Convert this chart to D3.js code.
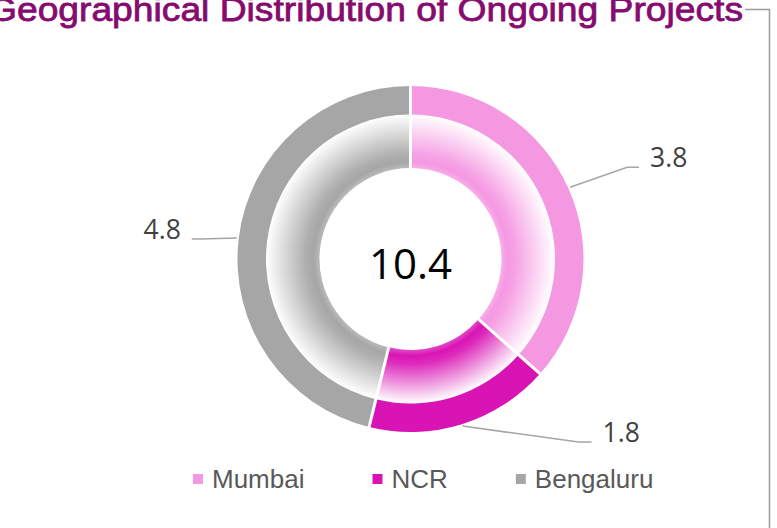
<!DOCTYPE html>
<html>
<head>
<meta charset="utf-8">
<script src="https://cdn.jsdelivr.net/npm/d3@7"></script>
<style>
  html, body { margin: 0; padding: 0; background: #ffffff; }
  svg { display: block; }
</style>
</head>
<body>
<svg id="chart" width="777" height="528"></svg>
<script>
// ---- data ----
const categories = ["Mumbai", "NCR", "Bengaluru"];
const values = [3.8, 1.8, 4.8];
const colors = ["#F598E2", "#D914B5", "#A6A6A6"];
const totalLabel = "10.4";
const title = "Geographical Distribution of Ongoing Projects";

// ---- layout ----
const W = 777, H = 528;
const cx = 410.5, cy = 259;
const rOuter = 173, rMid = 144.5, rInner = 91;
// manual label elbow offsets (from leader start) like the original chart
const labelLayout = [
  { dx: 57, dy: -20, tail: 12, side: 1 },
  { dx: 116, dy: 16, tail: 13, side: 1 },
  { dx: -36, dy: 1, tail: -9, side: -1 }
];

const svg = d3.select("#chart");

// border (right + top segment)
svg.append("path")
  .attr("d", `M745,9.5 H769.5 V528`)
  .attr("fill", "none")
  .attr("stroke", "#9a9a9a")
  .attr("stroke-width", 1.5);

// title
svg.append("text")
  .attr("x", -12)
  .attr("y", 20.5)
  .attr("textLength", 755)
  .attr("lengthAdjust", "spacingAndGlyphs")
  .attr("font-family", "'Liberation Sans', Arial, sans-serif")
  .attr("font-size", 34)
  .attr("fill", "#860B6E")
  .attr("stroke", "#860B6E")
  .attr("stroke-width", 0.8)
  .text(title);

const pie = d3.pie().sort(null).value(d => d)(values);

const defs = svg.append("defs");
colors.forEach((c, i) => {
  const g = defs.append("radialGradient")
    .attr("id", "grad" + i)
    .attr("gradientUnits", "userSpaceOnUse")
    .attr("cx", 0).attr("cy", 0).attr("r", rMid);
  const light = d3.interpolateRgb(c, "#ffffff")(0.22);
  g.append("stop").attr("offset", rInner / rMid).attr("stop-color", light);
  g.append("stop").attr("offset", (rInner + 6) / rMid).attr("stop-color", c);
  g.append("stop").attr("offset", (rInner + 14) / rMid).attr("stop-color", d3.interpolateRgb(c, "#ffffff")(0.1));
  g.append("stop").attr("offset", 1).attr("stop-color", "#ffffff");
});

const arcOuter = d3.arc().innerRadius(rMid).outerRadius(rOuter);
const arcInner = d3.arc().innerRadius(rInner).outerRadius(rMid);

// inner gradient ring
const gInner = svg.append("g").attr("transform", `translate(${cx},${cy})`);
gInner.selectAll("path")
  .data(pie)
  .join("path")
  .attr("d", arcInner)
  .attr("fill", (d, i) => `url(#grad${i})`);

// outer solid ring
const gOuter = svg.append("g").attr("transform", `translate(${cx},${cy})`);
gOuter.selectAll("path")
  .data(pie)
  .join("path")
  .attr("d", arcOuter)
  .attr("fill", (d, i) => colors[i]);

// separators (white radial lines)
const gSep = svg.append("g").attr("transform", `translate(${cx},${cy})`);
gSep.selectAll("line")
  .data(pie)
  .join("line")
  .attr("x1", d => rInner * Math.sin(d.startAngle))
  .attr("y1", d => -rInner * Math.cos(d.startAngle))
  .attr("x2", d => (rOuter + 1) * Math.sin(d.startAngle))
  .attr("y2", d => -(rOuter + 1) * Math.cos(d.startAngle))
  .attr("stroke", "#ffffff")
  .attr("stroke-width", 3);

// center total
svg.append("text")
  .attr("x", cx)
  .attr("y", 279)
  .attr("text-anchor", "middle")
  .attr("font-family", "'Open Sans', sans-serif")
  .attr("font-size", 42)
  .attr("fill", "#000000")
  .text(totalLabel);

// data labels with leader lines
const gLab = svg.append("g").attr("transform", `translate(${cx},${cy})`);
pie.forEach((d, i) => {
  const a = (d.startAngle + d.endAngle) / 2;
  const r0 = rOuter + 2;
  const x0 = r0 * Math.sin(a), y0 = -r0 * Math.cos(a);
  const L = labelLayout[i];
  const x1 = x0 + L.dx, y1 = y0 + L.dy;
  const x2 = x1 + L.tail;
  gLab.append("polyline")
    .attr("points", `${x0},${y0} ${x1},${y1} ${x2},${y1}`)
    .attr("fill", "none")
    .attr("stroke", "#A6A6A6")
    .attr("stroke-width", 1.5);
  gLab.append("text")
    .attr("x", x2 + L.side * 11)
    .attr("y", y1)
    .attr("text-anchor", L.side > 0 ? "start" : "end")
    .attr("font-family", "'Open Sans', sans-serif")
    .attr("font-size", 26.5)
    .attr("fill", "#404040")
    .text(d3.format(".1f")(values[i]));
});

// legend
const legend = svg.append("g");
let lx = 193;
categories.forEach((c, i) => {
  legend.append("rect")
    .attr("x", lx).attr("y", 474)
    .attr("width", 10).attr("height", 10)
    .attr("fill", colors[i]);
  const t = legend.append("text")
    .attr("x", lx + 19)
    .attr("y", 488)
    .attr("font-family", "'Liberation Sans', Arial, sans-serif")
    .attr("font-size", 26)
    .attr("fill", "#595959")
    .text(c);
  lx += 19 + t.node().getComputedTextLength() + 68;
});
</script>
</body>
</html>
